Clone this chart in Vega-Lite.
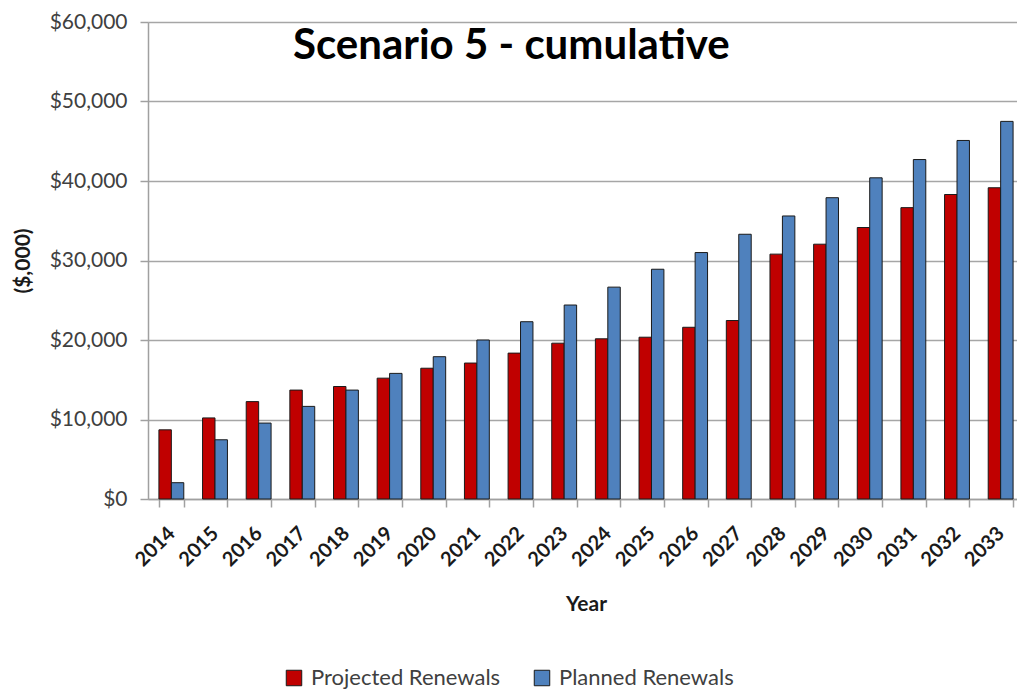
{
  "$schema": "https://vega.github.io/schema/vega-lite/v6.json",
  "autosize": {"type": "none"},
  "padding": {"left": 148, "top": 22, "right": 0, "bottom": 193},
  "width": 869,
  "height": 477,
  "background": "white",
  "title": {
    "text": "Scenario 5 - cumulative",
    "anchor": "start",
    "frame": "group",
    "baseline": "top",
    "offset": 0,
    "dx": 145,
    "dy": 57,
    "font": "Lato",
    "fontSize": 42,
    "fontWeight": "bold",
    "color": "#000000"
  },
  "data": {
    "values": [
      {"year": "2014", "series": "Projected Renewals", "value": 8700},
      {"year": "2014", "series": "Planned Renewals", "value": 2050},
      {"year": "2015", "series": "Projected Renewals", "value": 10200},
      {"year": "2015", "series": "Planned Renewals", "value": 7450},
      {"year": "2016", "series": "Projected Renewals", "value": 12250},
      {"year": "2016", "series": "Planned Renewals", "value": 9550},
      {"year": "2017", "series": "Projected Renewals", "value": 13700},
      {"year": "2017", "series": "Planned Renewals", "value": 11650},
      {"year": "2018", "series": "Projected Renewals", "value": 14150},
      {"year": "2018", "series": "Planned Renewals", "value": 13700},
      {"year": "2019", "series": "Projected Renewals", "value": 15200},
      {"year": "2019", "series": "Planned Renewals", "value": 15800},
      {"year": "2020", "series": "Projected Renewals", "value": 16450},
      {"year": "2020", "series": "Planned Renewals", "value": 17900},
      {"year": "2021", "series": "Projected Renewals", "value": 17100},
      {"year": "2021", "series": "Planned Renewals", "value": 20000},
      {"year": "2022", "series": "Projected Renewals", "value": 18350},
      {"year": "2022", "series": "Planned Renewals", "value": 22300},
      {"year": "2023", "series": "Projected Renewals", "value": 19600},
      {"year": "2023", "series": "Planned Renewals", "value": 24400},
      {"year": "2024", "series": "Projected Renewals", "value": 20150},
      {"year": "2024", "series": "Planned Renewals", "value": 26650},
      {"year": "2025", "series": "Projected Renewals", "value": 20350},
      {"year": "2025", "series": "Planned Renewals", "value": 28900},
      {"year": "2026", "series": "Projected Renewals", "value": 21600},
      {"year": "2026", "series": "Planned Renewals", "value": 31000},
      {"year": "2027", "series": "Projected Renewals", "value": 22450},
      {"year": "2027", "series": "Planned Renewals", "value": 33300},
      {"year": "2028", "series": "Projected Renewals", "value": 30800},
      {"year": "2028", "series": "Planned Renewals", "value": 35600},
      {"year": "2029", "series": "Projected Renewals", "value": 32050},
      {"year": "2029", "series": "Planned Renewals", "value": 37900},
      {"year": "2030", "series": "Projected Renewals", "value": 34150},
      {"year": "2030", "series": "Planned Renewals", "value": 40400},
      {"year": "2031", "series": "Projected Renewals", "value": 36650},
      {"year": "2031", "series": "Planned Renewals", "value": 42700},
      {"year": "2032", "series": "Projected Renewals", "value": 38300},
      {"year": "2032", "series": "Planned Renewals", "value": 45100},
      {"year": "2033", "series": "Projected Renewals", "value": 39150},
      {"year": "2033", "series": "Planned Renewals", "value": 47500}
    ]
  },
  "mark": {"type": "bar", "stroke": "#1a1a1a", "strokeWidth": 1},
  "encoding": {
    "x": {
      "field": "year",
      "type": "nominal",
      "title": "Year",
      "scale": {"range": [0, 876], "paddingInner": 0.43, "paddingOuter": 0.25},
      "axis": {
        "labelAngle": -45,
        "labelAlign": "right",
        "labelBaseline": "middle",
        "labelFont": "Lato",
        "labelFontSize": 20,
        "labelFontWeight": "bold",
        "labelColor": "#1a1a1a",
        "labelPadding": 23,
        "tickBand": "extent",
        "tickSize": 8,
        "tickColor": "#a0a0a0",
        "tickWidth": 1.5,
        "domainColor": "#a0a0a0",
        "domainWidth": 1.5,
        "titleFont": "Lato",
        "titleFontSize": 21,
        "titleFontWeight": "bold",
        "titleColor": "#1a1a1a",
        "titleX": 438,
        "titlePadding": 24
      }
    },
    "xOffset": {"field": "series", "type": "nominal", "sort": ["Projected Renewals", "Planned Renewals"]},
    "y": {
      "field": "value",
      "type": "quantitative",
      "title": "($,000)",
      "scale": {"domain": [0, 60000], "nice": false},
      "axis": {
        "values": [0, 10000, 20000, 30000, 40000, 50000, 60000],
        "format": "$,.0f",
        "labelFont": "Lato",
        "labelFontSize": 21,
        "labelColor": "#404040",
        "labelPadding": 13,
        "tickSize": 8,
        "tickColor": "#a0a0a0",
        "tickWidth": 1.5,
        "domainColor": "#a0a0a0",
        "domainWidth": 1.5,
        "gridColor": "#a6a6a6",
        "gridWidth": 1.5,
        "titleFont": "Lato",
        "titleFontSize": 21,
        "titleFontWeight": "bold",
        "titleColor": "#1a1a1a",
        "titlePadding": 16
      }
    },
    "color": {
      "field": "series",
      "type": "nominal",
      "scale": {"domain": ["Projected Renewals", "Planned Renewals"], "range": ["#C00000", "#4F81BD"]},
      "legend": {
        "title": null,
        "orient": "none",
        "direction": "horizontal",
        "legendX": 135,
        "legendY": 645,
        "symbolType": "square",
        "symbolSize": 240,
        "symbolStrokeColor": "#1a1a1a",
        "symbolStrokeWidth": 1,
        "labelFont": "Lato",
        "labelFontSize": 22,
        "labelLimit": 0,
        "labelColor": "#404040",
        "labelOffset": 6,
        "columnPadding": 30
      }
    }
  },
  "config": {"view": {"stroke": null}}
}
